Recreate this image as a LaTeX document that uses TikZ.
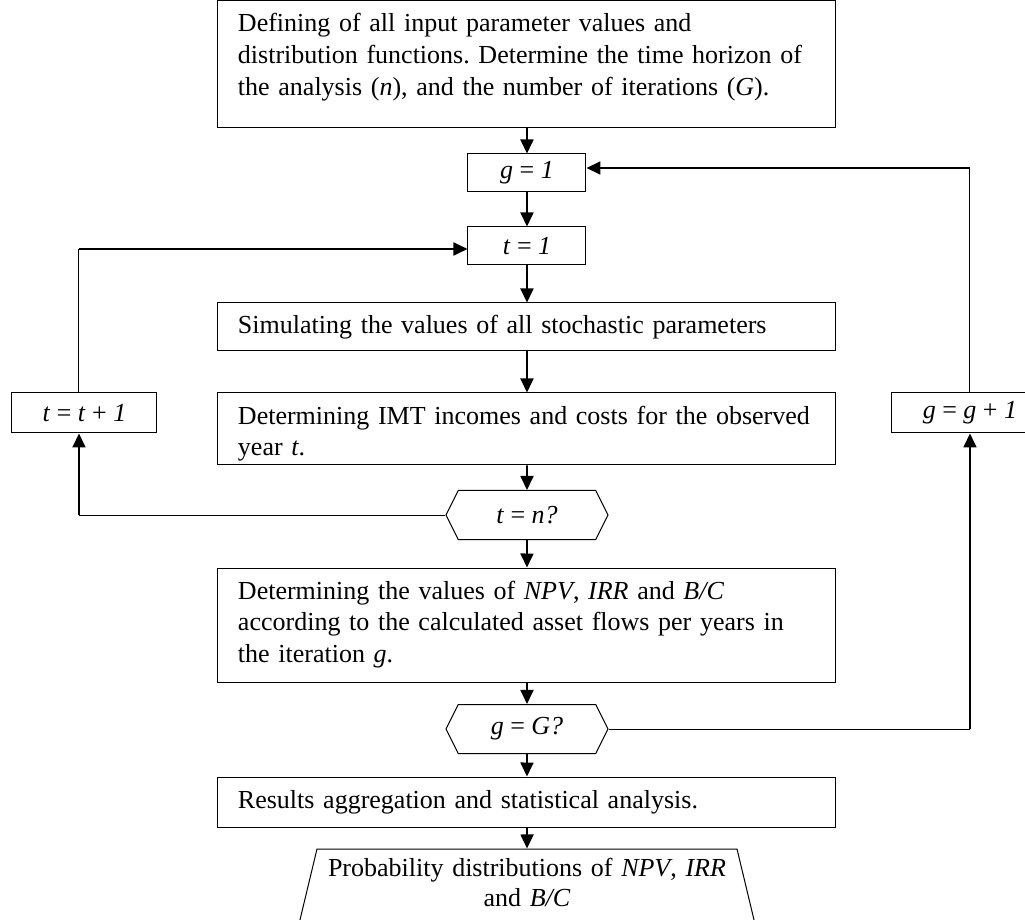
\documentclass[tikz,border=0pt]{standalone}
\usepackage{fontspec}
\setmainfont{Liberation Serif}
\frenchspacing
\usetikzlibrary{shapes.geometric, shapes.symbols, arrows.meta}
\tikzstyle{process} = [rectangle, draw=black, line width=0.5pt, text width=289pt, inner xsep=10pt, inner ysep=4pt, text height=11.5pt, align=left]
\tikzstyle{counter} = [rectangle, draw=black, line width=0.5pt, minimum width=59pt, minimum height=19pt, inner sep=0pt]
\tikzstyle{decision} = [signal, signal to=west and east, signal pointer angle=127, draw=black, line width=0.5pt, minimum width=81pt, minimum height=24.5pt, inner sep=0pt]
\tikzstyle{io} = [trapezium, trapezium left angle=76.5, trapezium right angle=76.5, draw=black, line width=0.5pt, text width=200pt, inner xsep=5pt, inner ysep=4.75pt, text height=9pt, text depth=18pt, align=center, font=\fontsize{13pt}{15pt}\selectfont]
\tikzstyle{arrow} = [line width=0.9pt, -{Triangle[length=7pt,width=6.5pt]}]
\tikzstyle{line} = [line width=0.5pt]

\begin{document}
\begin{tikzpicture}[every node/.style={font=\fontsize{13pt}{16pt}\selectfont}]
\useasboundingbox (-263.5pt,-427.75pt) rectangle (249pt,32.25pt);

% Nodes
\node (init) [process, text depth=44pt] {Defining of all input parameter values and\\ distribution functions. Determine the time horizon of\\ the analysis (\textit{n}), and the number of iterations (\textit{G}).};
\node (g1) [counter, node distance=54.25pt, below of=init] {\textit{g} = \textit{1}};
\node (t1) [counter, node distance=36.5pt, below of=g1] {\textit{t} = \textit{1}};
\node (sim) [process, text depth=4.5pt, node distance=40.5pt, below of=t1] {Simulating the values of all stochastic parameters};
\node (imt) [process, text depth=16.5pt, node distance=51pt, below of=sim] {Determining IMT incomes and costs for the observed\\ year \textit{t}.};
\node (tn) [decision, node distance=43pt, below of=imt] {\textit{t} = \textit{n?}};
\node (npv) [process, text depth=37.5pt, node distance=55pt, below of=tn] {Determining the values of \textit{NPV}, \textit{IRR} and \textit{B/C}\\ according to the calculated asset flows per years in\\ the iteration \textit{g}.};
\node (gG) [decision, node distance=52pt, below of=npv] {\textit{g} = \textit{G?}};
\node (res) [process, text depth=5.5pt, node distance=36.5pt, below of=gG] {Results aggregation and statistical analysis.};
\node (dist) [io, node distance=41.75pt, below of=res] {Probability distributions of \textit{NPV}, \textit{IRR}\\ and \textit{B/C}};
\node (tplus) [counter, minimum width=72.5pt, minimum height=20pt, node distance=221.25pt, left of=imt, yshift=8pt] {\textit{t} = \textit{t} + \textit{1}};
\node (gplus) [counter, minimum width=78pt, minimum height=20pt, node distance=221.5pt, right of=imt, yshift=8pt] {\textit{g} = \textit{g} + \textit{1}};

% Ends and corners of the loops
\coordinate (tbottom) at ([xshift=-2.75pt]tplus.south);
\coordinate (ttop) at ([xshift=-2.75pt]tplus.north);
\coordinate (tin) at ([yshift=-1.5pt]t1.west);
\coordinate (gin) at ([yshift=2.5pt]g1.east);
\coordinate (tleft) at (tbottom |- tn.west);
\coordinate (tcorner) at (ttop |- tin);
\coordinate (gright) at (gplus.south |- gG.east);
\coordinate (gcorner) at (gplus.north |- gin);

% Arrows
\draw [arrow] (init) -- (g1);
\draw [arrow] (g1) -- (t1);
\draw [arrow] (t1) -- (sim);
\draw [arrow] (sim) -- (imt);
\draw [arrow] (imt) -- (tn);
\draw [arrow] (tn) -- (npv);
\draw [arrow] (npv) -- (gG);
\draw [arrow] (gG) -- (res);
\draw [arrow] (res) -- (dist);
\draw [line] (tn.west) -- (tleft);
\draw [arrow] (tleft) -- (tbottom);
\draw [line] (ttop) -- (tcorner);
\draw [arrow] (tcorner) -- (tin);
\draw [line] (gG.east) -- (gright);
\draw [arrow] (gright) -- (gplus.south);
\draw [line] (gplus.north) -- (gcorner);
\draw [arrow] (gcorner) -- (gin);

\end{tikzpicture}
\end{document}
